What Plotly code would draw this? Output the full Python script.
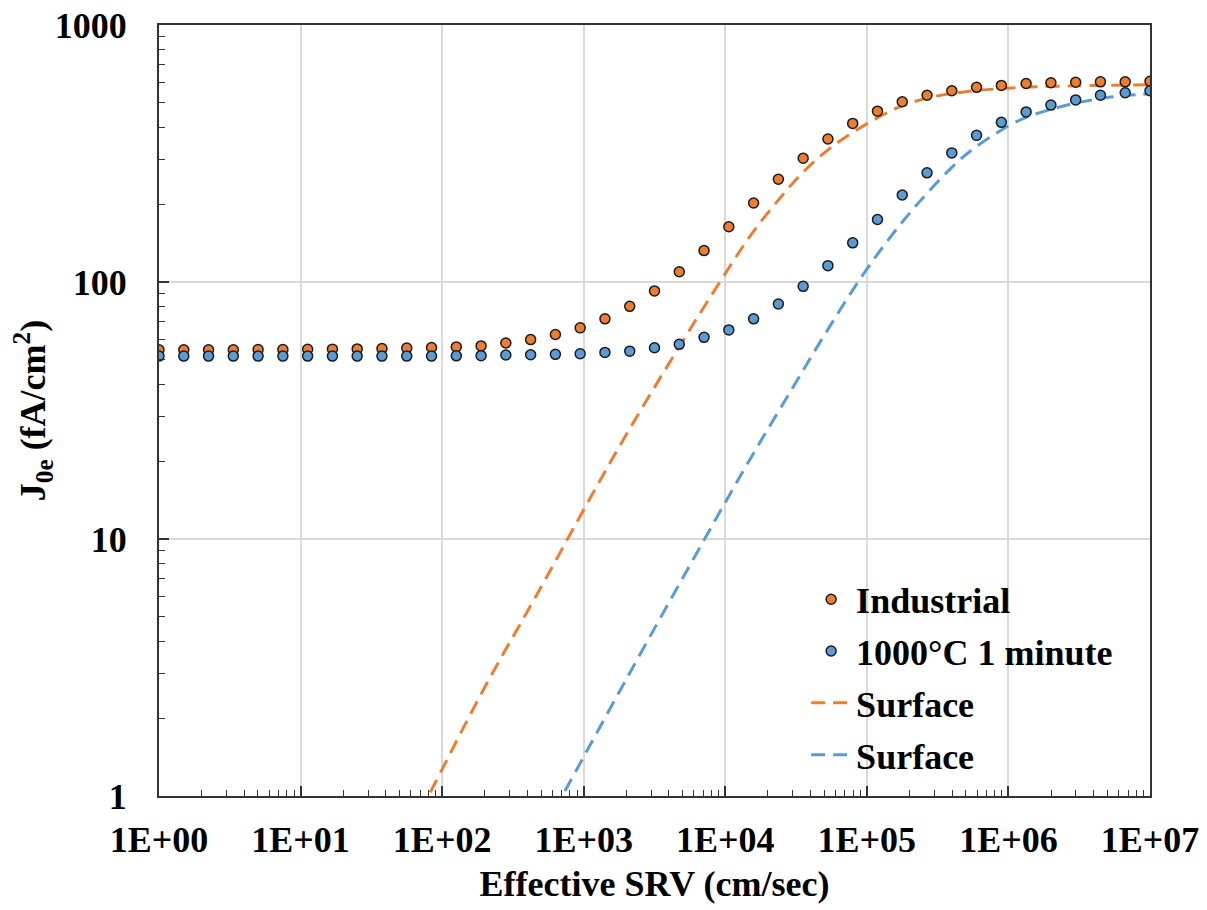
import plotly.graph_objects as go

# ---- data ----
srv = [1, 1.496, 2.239, 3.350, 5.012, 7.499, 11.22, 16.79, 25.12, 37.58,
       56.23, 84.14, 125.9, 188.4, 281.8, 421.7, 631.0, 944.1, 1412.5, 2113.5,
       3162.3, 4731.5, 7079.5, 10592.5, 15848.9, 23713.7, 35481.3, 53088.4, 79432.8, 118850,
       177828, 266073, 398107, 595662, 891251, 1333521, 1995262, 2985383, 4466836, 6683439,
       10000000]

industrial = [54.5, 54.5, 54.5, 54.5, 54.6, 54.6, 54.7, 54.8, 54.9, 55.1,
              55.3, 55.6, 55.9, 56.4, 57.9, 59.7, 62.5, 66.3, 71.9, 80.4,
              92.3, 109.6, 132.5, 164, 203, 251, 303, 360, 414, 462,
              503, 533, 555, 572, 582, 592, 596, 599, 601, 601,
              604]

rta_1000c = [51.5, 51.5, 51.5, 51.5, 51.5, 51.5, 51.5, 51.5, 51.5, 51.5,
             51.5, 51.5, 51.6, 51.7, 52.0, 52.1, 52.3, 52.6, 53.2, 53.8,
             55.5, 57.2, 60.9, 65.1, 71.9, 82.1, 96.2, 115.8, 142, 175,
             218, 266, 318, 372, 418, 459, 488, 511, 533, 545,
             555]

surf_ind_x = [70, 80, 200, 500, 1000, 2000, 4730, 9370, 15500, 24000,
              34800, 50000, 74000, 110000, 178000, 300000, 500000, 1000000, 3000000, 10000000]
surf_ind_y = [0.87, 1.0, 2.65, 6.5, 13, 25.5, 56, 102, 155, 210,
              265, 318, 372, 425, 485, 527, 550, 568, 580, 585]

surf_rta_x = [620, 705, 2000, 7000, 15000, 29300, 50000, 93000, 150000, 235000,
              400000, 566000, 1000000, 1350000, 2000000, 3160000, 5000000, 10000000]
surf_rta_y = [0.88, 1.0, 2.85, 9.8, 20.5, 38, 62, 106, 152, 205,
              280, 330, 405, 438, 470, 500, 522, 540]

x_tickvals = [1, 10, 100, 1000, 1e4, 1e5, 1e6, 1e7]
x_ticktext = ["1E+00", "1E+01", "1E+02", "1E+03", "1E+04", "1E+05", "1E+06", "1E+07"]
y_tickvals = [1, 10, 100, 1000]
y_ticktext = ["1", "10", "100", "1000"]

ORANGE = "#ED7D31"
BLUE = "#5B9BD5"
FONT = "Liberation Serif"

minor_x = [m * 10 ** d for d in range(7) for m in range(2, 10)]
minor_y = [m * 10 ** d for d in range(3) for m in range(2, 10)]

fig = go.Figure()
fig.add_trace(go.Scatter(x=surf_ind_x, y=surf_ind_y, mode="lines", name="Surface",
                         line=dict(color=ORANGE, width=3, dash="14px,8px", shape="spline"),
                         legendrank=3, legendgroup="c"))
fig.add_trace(go.Scatter(x=surf_rta_x, y=surf_rta_y, mode="lines", name="Surface",
                         line=dict(color=BLUE, width=3, dash="14px,8px", shape="spline"),
                         legendrank=4, legendgroup="d"))
fig.add_trace(go.Scatter(x=srv, y=industrial, mode="markers", name="Industrial",
                         marker=dict(color=ORANGE, size=10, line=dict(color="#1a1a1a", width=1.5)),
                         legendrank=1, legendgroup="a"))
fig.add_trace(go.Scatter(x=srv, y=rta_1000c, mode="markers", name="1000°C 1 minute",
                         marker=dict(color=BLUE, size=10, line=dict(color="#1a1a1a", width=1.5)),
                         legendrank=2, legendgroup="b"))

axis_common = dict(
    type="log",
    showgrid=True, gridcolor="#d9d9d9", gridwidth=1.5,
    showline=True, linecolor="#333333", linewidth=2, mirror=True,
    ticks="inside", ticklen=10, tickwidth=1.5, tickcolor="#333333",
    tickfont=dict(family=FONT, size=36, color="black", weight="bold"),
    zeroline=False, ticklabeloverflow="allow",
)

fig.update_xaxes(**axis_common, range=[0, 7], tickmode="array",
                 tickvals=x_tickvals, ticktext=x_ticktext, ticklabelstandoff=11,
                 minor=dict(tickmode="array", tickvals=minor_x, ticks="inside", ticklen=6,
                            tickwidth=1.2, tickcolor="#333333", showgrid=False),
                 title=dict(text="Effective SRV (cm/sec)", standoff=12,
                            font=dict(family=FONT, size=36, color="black", weight="bold")))
fig.update_yaxes(**axis_common, range=[0, 3], tickmode="array",
                 tickvals=y_tickvals, ticktext=y_ticktext, ticklabelstandoff=23,
                 minor=dict(tickmode="array", tickvals=minor_y, ticks="inside", ticklen=6,
                            tickwidth=1.2, tickcolor="#333333", showgrid=False),
                 title=dict(text="J<sub>0e</sub> (fA/cm<sup>2</sup>)", standoff=8,
                            font=dict(family=FONT, size=36, color="black", weight="bold")))

fig.update_layout(
    width=1207, height=910,
    margin=dict(l=151, r=65, t=17, b=122, autoexpand=False),
    plot_bgcolor="white", paper_bgcolor="white",
    font=dict(family=FONT, size=36, color="black", weight="bold"),
    legend=dict(x=0.653, y=0.294, xanchor="left", yanchor="top",
                bgcolor="rgba(0,0,0,0)", tracegroupgap=2, itemwidth=40,
                font=dict(family=FONT, size=36, color="black", weight="bold")),
    showlegend=True,
)

fig.write_html("out.html")
